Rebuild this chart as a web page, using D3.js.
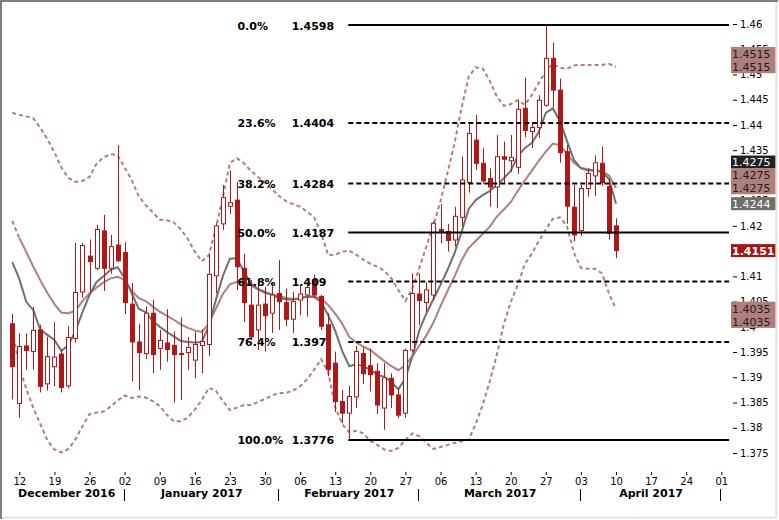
<!DOCTYPE html>
<html><head><meta charset="utf-8">
<script src="https://cdn.jsdelivr.net/npm/d3@7"></script>
<style>body{margin:0;background:#fff}svg{display:block;font-family:"DejaVu Sans",Verdana,sans-serif}</style>
</head><body><svg id="c" width="779" height="520"></svg>
<script>
// ---------- DATA ----------
const dates = [
"2016-12-09",
"2016-12-12","2016-12-13","2016-12-14","2016-12-15","2016-12-16",
"2016-12-19","2016-12-20","2016-12-21","2016-12-22","2016-12-23",
"2016-12-26","2016-12-27","2016-12-28","2016-12-29","2016-12-30",
"2017-01-02","2017-01-03","2017-01-04","2017-01-05","2017-01-06",
"2017-01-09","2017-01-10","2017-01-11","2017-01-12","2017-01-13",
"2017-01-16","2017-01-17","2017-01-18","2017-01-19","2017-01-20",
"2017-01-23","2017-01-24","2017-01-25","2017-01-26","2017-01-27",
"2017-01-30","2017-01-31","2017-02-01","2017-02-02","2017-02-03",
"2017-02-06","2017-02-07","2017-02-08","2017-02-09","2017-02-10",
"2017-02-13","2017-02-14","2017-02-15","2017-02-16","2017-02-17",
"2017-02-20","2017-02-21","2017-02-22","2017-02-23","2017-02-24",
"2017-02-27","2017-02-28","2017-03-01","2017-03-02","2017-03-03",
"2017-03-06","2017-03-07","2017-03-08","2017-03-09","2017-03-10",
"2017-03-13","2017-03-14","2017-03-15","2017-03-16","2017-03-17",
"2017-03-20","2017-03-21","2017-03-22","2017-03-23","2017-03-24",
"2017-03-27","2017-03-28","2017-03-29","2017-03-30","2017-03-31",
"2017-04-03","2017-04-04","2017-04-05","2017-04-06","2017-04-07",
"2017-04-10"];

const open = [1.4006,1.3848,1.3962,1.3951,1.3994,1.3887,1.3921,1.3946,1.3883,1.3977,
 1.4069,1.4140,1.4116,1.4190,1.4116,1.4162,1.4147,1.4045,1.3970,1.3947,
 1.4027,1.3957,1.3968,1.3963,1.3947,1.3949,1.3934,1.3963,1.3965,1.4101,
 1.4204,1.4239,1.4251,1.4116,1.4043,1.3994,1.4045,1.4027,1.4066,1.4048,
 1.4015,1.4053,1.4063,1.4093,1.4060,1.4004,1.3928,1.3852,1.3829,1.3861,
 1.3947,1.3923,1.3912,1.3839,1.3898,1.3865,1.3829,1.3954,1.4065,1.4048,
 1.4063,1.4193,1.4189,1.4172,1.4217,1.4286,1.4370,1.4324,1.4294,1.4277,
 1.4337,1.4329,1.4316,1.4433,1.4387,1.4395,1.4439,1.4532,1.4469,1.4347,
 1.4237,1.4191,1.4274,1.4299,1.4324,1.4278,1.4200];
const high = [1.4026,1.3987,1.3987,1.4039,1.4004,1.3980,1.4009,1.3954,1.4001,1.4166,
 1.4166,1.4173,1.4202,1.4222,1.4182,1.4360,1.4168,1.4087,1.4006,1.4040,
 1.4054,1.3994,1.4035,1.3991,1.4019,1.3980,1.3991,1.3995,1.4144,1.4205,
 1.4281,1.4310,1.4287,1.4145,1.4093,1.4093,1.4079,1.4087,1.4132,1.4076,
 1.4069,1.4083,1.4087,1.4103,1.4063,1.4027,1.3951,1.3875,1.3883,1.3962,
 1.3959,1.3957,1.3928,1.3928,1.3908,1.3879,1.3957,1.4106,1.4106,1.4088,
 1.4209,1.4243,1.4204,1.4238,1.4337,1.4403,1.4420,1.4354,1.4314,1.4380,
 1.4367,1.4380,1.4449,1.4494,1.4406,1.4459,1.4598,1.4563,1.4492,1.4360,
 1.4281,1.4281,1.4314,1.4340,1.4357,1.4292,1.4215];
const low = [1.3856,1.3820,1.3915,1.3915,1.3870,1.3874,1.3882,1.3870,1.3878,1.3969,
 1.4058,1.4069,1.4112,1.4071,1.4105,1.4128,1.4025,1.3892,1.3874,1.3936,
 1.3908,1.3915,1.3931,1.3850,1.3855,1.3915,1.3898,1.3908,1.3942,1.4066,
 1.4192,1.4223,1.4073,1.4009,1.3974,1.3954,1.3951,1.3988,1.3994,1.4001,
 1.3988,1.4023,1.4020,1.4057,1.3994,1.3902,1.3831,1.3809,1.3776,1.3839,
 1.3887,1.3872,1.3827,1.3796,1.3839,1.3819,1.3820,1.3950,1.4004,1.4030,
 1.4053,1.4165,1.4149,1.4159,1.4198,1.4266,1.4311,1.4284,1.4238,1.4235,
 1.4284,1.4307,1.4303,1.4376,1.4354,1.4374,1.4436,1.4435,1.4325,1.4204,
 1.4169,1.4180,1.4258,1.4259,1.4279,1.4173,1.4136];
const close = [1.3921,1.3961,1.3953,1.3993,1.3882,1.3941,1.3940,1.3880,1.3979,1.4068,
 1.4161,1.4129,1.4193,1.4116,1.4159,1.4131,1.4048,1.3970,1.3949,1.4027,
 1.3945,1.3973,1.3955,1.3945,1.3945,1.3959,1.3965,1.3971,1.4104,1.4200,
 1.4256,1.4246,1.4119,1.4048,1.3980,1.4043,1.4022,1.4063,1.4050,1.4015,
 1.4050,1.4065,1.4078,1.4063,1.4001,1.3915,1.3852,1.3829,1.3862,1.3951,
 1.3907,1.3905,1.3845,1.3899,1.3865,1.3825,1.3953,1.4066,1.4052,1.4073,
 1.4205,1.4189,1.4171,1.4219,1.4291,1.4383,1.4324,1.4289,1.4277,1.4337,
 1.4332,1.4336,1.4431,1.4389,1.4395,1.4449,1.4532,1.4469,1.4345,1.4239,
 1.4182,1.4274,1.4304,1.4325,1.4286,1.4185,1.4151];

const maFast = [1.4128,1.4095,1.4049,1.4033,1.3994,1.3984,1.3974,1.3952,1.3964,1.3992,
 1.4029,1.4063,1.4089,1.4100,1.4113,1.4118,1.4097,1.4067,1.4036,1.4029,
 1.4012,1.4000,1.3990,1.3981,1.3972,1.3970,1.3969,1.3970,1.4002,1.4053,
 1.4101,1.4135,1.4136,1.4109,1.4086,1.4075,1.4069,1.4063,1.4057,1.4054,
 1.4054,1.4056,1.4060,1.4059,1.4049,1.4023,1.3992,1.3952,1.3922,1.3926,
 1.3922,1.3915,1.3905,1.3901,1.3891,1.3876,1.3898,1.3942,1.3994,1.4027,
 1.4055,1.4083,1.4113,1.4146,1.4188,1.4233,1.4251,1.4261,1.4269,1.4281,
 1.4294,1.4309,1.4338,1.4354,1.4364,1.4386,1.4424,1.4433,1.4408,1.4369,
 1.4331,1.4314,1.4310,1.4309,1.4307,1.4293,1.4244];
const maSlow = [1.4210,1.4176,1.4148,1.4119,1.4092,1.4067,1.4045,1.4028,1.4027,1.4032,
 1.4051,1.4066,1.4078,1.4088,1.4096,1.4099,1.4093,1.4071,1.4057,1.4051,
 1.4040,1.4030,1.4022,1.4014,1.4005,1.3998,1.3993,1.3990,1.4006,1.4036,
 1.4065,1.4084,1.4089,1.4088,1.4082,1.4074,1.4067,1.4064,1.4061,1.4057,
 1.4055,1.4056,1.4060,1.4060,1.4056,1.4043,1.4026,1.4006,1.3980,1.3969,
 1.3961,1.3954,1.3943,1.3932,1.3922,1.3914,1.3924,1.3942,1.3963,1.3983,
 1.4009,1.4041,1.4071,1.4100,1.4132,1.4156,1.4170,1.4184,1.4198,1.4218,
 1.4232,1.4247,1.4269,1.4290,1.4309,1.4329,1.4347,1.4363,1.4360,1.4343,
 1.4325,1.4315,1.4312,1.4310,1.4309,1.4300,1.4275];
const bandUpper = [1.4424,1.4420,1.4417,1.4413,1.4394,1.4372,1.4346,1.4315,1.4295,1.4287,
 1.4289,1.4297,1.4323,1.4336,1.4342,1.4340,1.4316,1.4291,1.4259,1.4241,
 1.4227,1.4212,1.4211,1.4207,1.4193,1.4174,1.4149,1.4130,1.4142,1.4196,
 1.4257,1.4325,1.4334,1.4324,1.4309,1.4297,1.4286,1.4273,1.4259,1.4249,
 1.4243,1.4238,1.4228,1.4217,1.4185,1.4142,1.4143,1.4149,1.4151,1.4143,
 1.4133,1.4125,1.4119,1.4111,1.4096,1.4073,1.4051,1.4077,1.4117,1.4160,
 1.4202,1.4249,1.4305,1.4364,1.4434,1.4495,1.4514,1.4512,1.4488,1.4457,
 1.4438,1.4441,1.4449,1.4440,1.4459,1.4483,1.4507,1.4521,1.4513,1.4511,
 1.4518,1.4519,1.4519,1.4519,1.4519,1.4521,1.4515];
const bandLower = [1.3994,1.3920,1.3877,1.3839,1.3807,1.3775,1.3757,1.3751,1.3758,1.3777,
 1.3803,1.3827,1.3830,1.3832,1.3842,1.3854,1.3864,1.3859,1.3862,1.3860,
 1.3853,1.3843,1.3826,1.3813,1.3813,1.3820,1.3836,1.3855,1.3879,1.3873,
 1.3853,1.3835,1.3840,1.3845,1.3845,1.3851,1.3857,1.3864,1.3869,1.3869,
 1.3874,1.3882,1.3896,1.3915,1.3936,1.3910,1.3841,1.3807,1.3791,1.3794,
 1.3789,1.3774,1.3766,1.3757,1.3754,1.3760,1.3776,1.3789,1.3783,1.3770,
 1.3758,1.3762,1.3766,1.3770,1.3773,1.3776,1.3807,1.3845,1.3891,1.3943,
 1.4004,1.4049,1.4083,1.4124,1.4145,1.4170,1.4193,1.4214,1.4217,1.4200,
 1.4147,1.4117,1.4115,1.4115,1.4106,1.4066,1.4035];

const fibPercents = ["0.0%","23.6%","38.2%","50.0%","61.8%","76.4%","100.0%"];
const fibPrices   = [1.4598, 1.4404, 1.4284, 1.4187, 1.409, 1.397, 1.3776];
const fibPriceText = ["1.4598","1.4404","1.4284","1.4187","1.409","1.397","1.3776"];
const fibSolid    = [true,false,false,true,false,false,true];
const fibAnchorDate = "2017-02-15";

const yTicks = [1.375,1.38,1.385,1.39,1.395,1.4,1.405,1.41,1.415,1.42,1.425,1.43,1.435,1.44,1.445,1.45,1.455,1.46];
const weekLabels = ["12","19","26","02","09","16","23","30","06","13","20","27","06","13","20","27","03","10","17","24","01"];
const monthNames = ["December 2016","January 2017","February 2017","March 2017","April 2017"];
const monthStarts = ["2016-12-01","2017-01-02","2017-02-01","2017-03-01","2017-04-03","2017-05-01"];

const tagTexts  = [["1.4515","1.4515"],["1.4275"],["1.4275","1.4275"],["1.4244"],["1.4151"],["1.4035","1.4035"]];
const tagValues = [1.4515, 1.4275, 1.4275, 1.4244, 1.4151, 1.4035];

// ---------- LAYOUT ----------
const svg = d3.select("#c");
const W = 779, H = 520;
svg.append("rect").attr("width",W).attr("height",H).attr("fill","#fff");

// trading-day index scale (5 days per week)
const x = d3.scaleLinear().domain([0, 101]).range([12.3, 721.3]);
const y = d3.scaleLinear().domain([1.375, 1.46]).range([453, 24]);
const idxOf = d => {
  const i = dates.indexOf(d);
  if (i >= 0) return i;
  // dates beyond the data: count weekdays after last date
  const last = new Date(dates[dates.length-1]), t = new Date(d);
  let n = dates.length - 1, c = new Date(last);
  const step = t > last ? 1 : -1;
  while ((step>0 ? c < t : c > t)) { c.setDate(c.getDate()+step); const wd=c.getDay(); if (wd!==0 && wd!==6) n += step; }
  return n;
};

const red = "#b01818", brown = "#b07f7b", gray = "#707070";
const plot = svg.append("g");

// Bollinger bands (dashed)
const line = d3.line().x((d,i)=>x(i)).y(d=>y(d));
[bandUpper, bandLower].forEach(arr => {
  plot.append("path").attr("d", line(arr)).attr("fill","none")
    .attr("stroke", brown).attr("stroke-width",2).attr("stroke-dasharray","4,3");
});
// middle (slow MA) — first segment dashed
const lineOff = d3.line().x(d=>x(d[0])).y(d=>y(d[1]));
plot.append("path").attr("d", lineOff([[0,maSlow[0]],[1,maSlow[1]]])).attr("fill","none")
  .attr("stroke", brown).attr("stroke-width",2).attr("stroke-dasharray","4,3");
plot.append("path").attr("d", lineOff(maSlow.map((v,i)=>[i,v]).slice(1))).attr("fill","none")
  .attr("stroke", brown).attr("stroke-width",2);
plot.append("path").attr("d", line(maFast)).attr("fill","none")
  .attr("stroke", gray).attr("stroke-width",2);

// candles
const cw = 5;
const candles = plot.selectAll("g.cdl").data(dates).join("g");
candles.append("line")
  .attr("x1",(d,i)=>Math.round(x(i))+0.5).attr("x2",(d,i)=>Math.round(x(i))+0.5)
  .attr("y1",(d,i)=>y(high[i])).attr("y2",(d,i)=>y(low[i]))
  .attr("stroke",red).attr("stroke-width",1);
candles.append("rect")
  .attr("x",(d,i)=>Math.round(x(i))-2+0.5)
  .attr("width",cw-1)
  .attr("y",(d,i)=>y(Math.max(open[i],close[i])))
  .attr("height",(d,i)=>Math.max(1, Math.abs(y(open[i])-y(close[i]))))
  .attr("fill",(d,i)=> close[i] >= open[i] ? "#fff" : red)
  .attr("stroke",red).attr("stroke-width",1);

// Fibonacci levels
const fx0 = x(idxOf(fibAnchorDate)) - 1, fx1 = 729;
const fib = svg.append("g");
fibPrices.forEach((p,k)=>{
  fib.append("line").attr("x1",fx0).attr("x2",fx1).attr("y1",y(p)).attr("y2",y(p))
    .attr("stroke","#000").attr("stroke-width",2)
    .attr("stroke-dasharray", fibSolid[k] ? null : "5,3");
  fib.append("text").attr("x",fx0-110.8).attr("y",y(p)+4.5)
    .attr("font-size",11).attr("font-weight","bold").text(fibPercents[k]);
  fib.append("text").attr("x",fx0-56.6).attr("y",y(p)+4.5)
    .attr("font-size",11).attr("font-weight","bold").text(fibPriceText[k]);
});

// Y axis (right)
const yAx = svg.append("g").attr("transform","translate(733,0)")
  .call(d3.axisRight(y).tickValues(yTicks).tickSize(4).tickPadding(3).tickFormat(d3.format("")));
yAx.select(".domain").remove();
yAx.selectAll("text").attr("font-size",10).attr("font-family","DejaVu Sans").attr("fill","#000");
yAx.selectAll("line").attr("stroke","#000");

// X axis (weekly ticks)
const weekIdx = weekLabels.map((l,k)=>1+5*k);
const xAx = svg.append("g").attr("transform","translate(0,472)")
  .call(d3.axisBottom(x).tickValues(weekIdx).tickSize(3).tickPadding(3).tickFormat((d,k)=>weekLabels[k]));
xAx.select(".domain").remove();
xAx.selectAll("text").attr("font-size",10).attr("font-family","DejaVu Sans").attr("fill","#000");
xAx.selectAll("line").attr("stroke","#000");

// month separators and names
const mIdx = monthStarts.map(idxOf);
const mx = mIdx.map((v,k)=> k===0 ? x(-0.5) : x(v));
mx.slice(1).forEach(px=>{
  svg.append("line").attr("x1",Math.round(px)-0.5).attr("x2",Math.round(px)-0.5)
    .attr("y1",489).attr("y2",501).attr("stroke","#000");
});
monthNames.forEach((m,k)=>{
  svg.append("text").attr("x",(mx[k]+mx[k+1])/2).attr("y",497)
    .attr("text-anchor","middle").attr("font-size",11).attr("font-weight","bold").text(m);
});

// price tags on the right
const tagStyle = [
  {fill:brown, color:"#1e1e1e", weight:"normal", top:-20, lines:[-13.3,0]},
  {fill:"#222", color:"#fff", weight:"normal", top:-32.5, h:12.5, lines:[-26.3]},
  {fill:brown, color:"#1e1e1e", weight:"normal", top:-20, lines:[-13.3,0]},
  {fill:"#6e6e6e", color:"#fff", weight:"normal", top:-6.5, lines:[0]},
  {fill:"#a51515", color:"#fff", weight:"bold", top:-6.5, lines:[0]},
  {fill:brown, color:"#1e1e1e", weight:"normal", top:-7.5, lines:[0,13.3]}
];
tagValues.forEach((v,k)=>{
  const s = tagStyle[k], yy = y(v);
  const h = s.h || (s.lines.length===2 ? 26.3 : 13);
  svg.append("rect").attr("x",731).attr("y",yy+s.top).attr("width",45).attr("height",h).attr("fill",s.fill);
  tagTexts[k].forEach((t,j)=>{
    svg.append("text").attr("x",732).attr("y",yy+s.lines[j]+4).attr("font-size",11)
      .attr("font-weight",s.weight).attr("fill",s.color).text(t);
  });
});

// frame
svg.append("line").attr("x1",0).attr("x2",778).attr("y1",1).attr("y2",1).attr("stroke","#808080").attr("stroke-width",2);
svg.append("line").attr("x1",1).attr("x2",1).attr("y1",0).attr("y2",519).attr("stroke","#808080").attr("stroke-width",2);
svg.append("line").attr("x1",776.3).attr("x2",776.3).attr("y1",2).attr("y2",518).attr("stroke","#e2e2e2").attr("stroke-width",2);
svg.append("line").attr("x1",2).attr("x2",777).attr("y1",517.7).attr("y2",517.7).attr("stroke","#e2e2e2").attr("stroke-width",2);
</script></body></html>
